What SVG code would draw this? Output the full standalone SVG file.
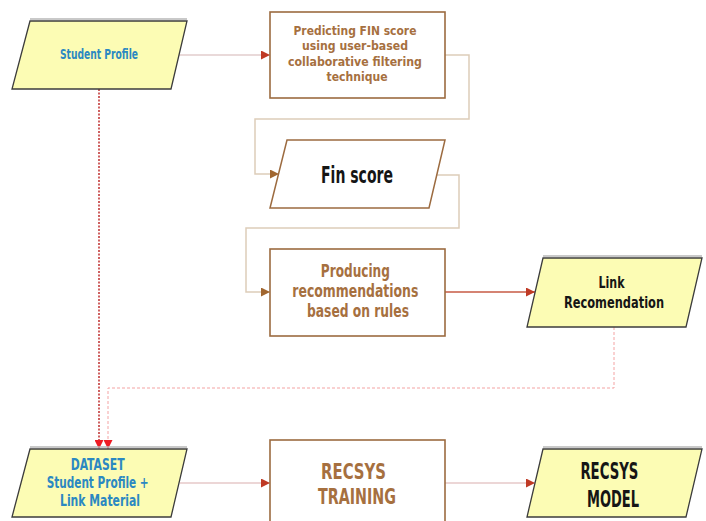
<svg xmlns="http://www.w3.org/2000/svg" width="706" height="521" viewBox="0 0 706 521">
<defs>
<style>
.para{fill:#fcfcb4;stroke:#3c3c3c;stroke-width:1.3}
.shadow{fill:none;stroke:#b8b8b8;stroke-width:1.5}
.box{fill:#fff;stroke:#9c6b40;stroke-width:1.6}
.t{font-family:"DejaVu Sans Condensed","DejaVu Sans",sans-serif;font-weight:bold;text-anchor:middle}
.brown{fill:#a6703f}
.blue{fill:#2b88c2}
.black{fill:#151515}
.c{fill:none}
</style>
<marker id="aRed" viewBox="0 0 10 10" refX="10" refY="5" markerWidth="9" markerHeight="9" markerUnits="userSpaceOnUse" orient="auto"><path d="M0,0 L10,5 L0,10 Z" fill="#bf3a25"/></marker>
<marker id="aBrown" viewBox="0 0 10 10" refX="10" refY="5" markerWidth="9" markerHeight="9" markerUnits="userSpaceOnUse" orient="auto"><path d="M0,0 L10,5 L0,10 Z" fill="#a1662f"/></marker>
<marker id="aBright" viewBox="0 0 10 10" refX="10" refY="5" markerWidth="9" markerHeight="9" markerUnits="userSpaceOnUse" orient="auto"><path d="M0,0 L10,5 L0,10 Z" fill="#ee1c24"/></marker>
</defs>
<rect width="706" height="521" fill="#fff"/>

<g id="connectors">
<path class="c" d="M179,55 H270" stroke="#e2cccc" stroke-width="1.5" marker-end="url(#aRed)"/>
<path class="c" d="M445,55 H469 V119 H255 V174 H279" stroke="#ddcdb9" stroke-width="1.5" marker-end="url(#aBrown)"/>
<path class="c" d="M437,175 H459 V228 H246 V292 H270" stroke="#ddcdb9" stroke-width="1.5" marker-end="url(#aBrown)"/>
<path class="c" d="M445,292 H535" stroke="#c75a45" stroke-width="1.5" marker-end="url(#aRed)"/>
<path class="c" d="M614,327 V388 H108 V449" stroke="#f4a3a3" stroke-width="1" stroke-dasharray="3,2" marker-end="url(#aBright)"/>
<path class="c" d="M99,89 V449" stroke="#c23a3a" stroke-width="1.6" stroke-dasharray="2,1.5" marker-end="url(#aBright)"/>
<path class="c" d="M180,483 H270" stroke="#e6c9c9" stroke-width="1.3" marker-end="url(#aRed)"/>
<path class="c" d="M445,483 H535" stroke="#e6c9c9" stroke-width="1.3" marker-end="url(#aRed)"/>
</g>

<g id="student-profile">
<polygon class="shadow" points="30,19 187,19"/>
<polygon class="para" points="30,21 187,21 171,89 12,89"/>
<text class="t blue" x="99" y="59" font-size="14" textLength="78" lengthAdjust="spacingAndGlyphs">Student Profile</text>
</g>

<g id="predicting">
<rect class="box" x="270" y="12" width="175" height="86"/>
<text class="t brown" font-size="13">
<tspan x="357" y="35" textLength="123" lengthAdjust="spacingAndGlyphs">Predicting FIN score</tspan>
<tspan x="357" y="50" textLength="106" lengthAdjust="spacingAndGlyphs">using user-based</tspan>
<tspan x="357" y="66" textLength="134" lengthAdjust="spacingAndGlyphs">collaborative filtering</tspan>
<tspan x="357" y="81" textLength="61" lengthAdjust="spacingAndGlyphs">technique</tspan>
</text>
</g>

<g id="fin-score">
<polygon points="287,140 445,140 429,208 270,208" fill="#fff" stroke="#9c6b40" stroke-width="1.5"/>
<text class="t black" x="357" y="183" font-size="23" textLength="72" lengthAdjust="spacingAndGlyphs">Fin score</text>
</g>

<g id="producing">
<rect class="box" x="270" y="249" width="175" height="87"/>
<text class="t brown" font-size="17">
<tspan x="358" y="277" textLength="69" lengthAdjust="spacingAndGlyphs">Producing</tspan>
<tspan x="358" y="297" textLength="126" lengthAdjust="spacingAndGlyphs">recommendations</tspan>
<tspan x="358" y="317" textLength="102" lengthAdjust="spacingAndGlyphs">based on rules</tspan>
</text>
</g>

<g id="link-recomendation">
<polygon class="shadow" points="543,256 702,256"/>
<polygon class="para" points="543,258 702,258 686,327 527,327"/>
<text class="t black" font-size="16">
<tspan x="614" y="288" textLength="26" lengthAdjust="spacingAndGlyphs">Link</tspan>
<tspan x="614" y="308" textLength="100" lengthAdjust="spacingAndGlyphs">Recomendation</tspan>
</text>
</g>

<g id="dataset">
<polygon class="shadow" points="30,447 187,447"/>
<polygon class="para" points="30,449 187,449 171,517 12,517"/>
<text class="t blue" font-size="15">
<tspan x="100" y="470" textLength="54" lengthAdjust="spacingAndGlyphs">DATASET</tspan>
<tspan x="100" y="488" textLength="102" lengthAdjust="spacingAndGlyphs">Student Profile +</tspan>
<tspan x="100" y="506" textLength="80" lengthAdjust="spacingAndGlyphs">Link Material</tspan>
</text>
</g>

<g id="recsys-training">
<rect class="box" x="270" y="440" width="175" height="100"/>
<text class="t brown" font-size="22">
<tspan x="357" y="479" textLength="65" lengthAdjust="spacingAndGlyphs">RECSYS</tspan>
<tspan x="357" y="504" textLength="78" lengthAdjust="spacingAndGlyphs">TRAINING</tspan>
</text>
</g>

<g id="recsys-model">
<polygon class="shadow" points="543,447 702,447"/>
<polygon class="para" points="543,449 702,449 686,517 527,517"/>
<text class="t black" font-size="23">
<tspan x="613" y="479" textLength="58" lengthAdjust="spacingAndGlyphs">RECSYS</tspan>
<tspan x="613" y="507" textLength="52" lengthAdjust="spacingAndGlyphs">MODEL</tspan>
</text>
</g>
</svg>
